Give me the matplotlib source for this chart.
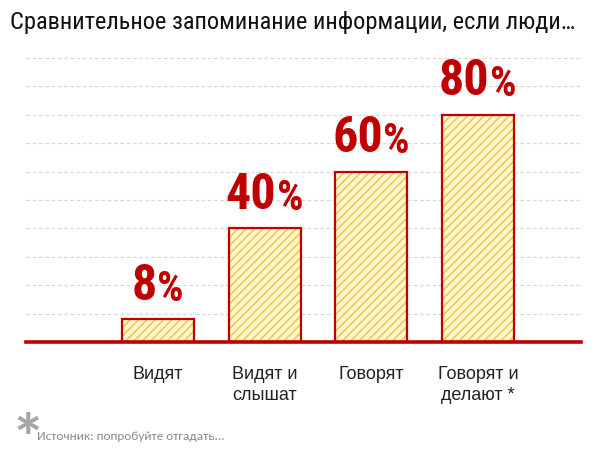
import matplotlib
matplotlib.use("Agg")
import matplotlib.pyplot as plt

title = "Сравнительное запоминание информации, если люди…"
categories = ["Видят", "Видят и\nслышат", "Говорят", "Говорят и\nделают *"]
values = [8, 40, 60, 80]
source = "Источник: попробуйте отгадать..."

RED = "#C00000"
FILL = "#FFF6CC"
HATCH = "#EEC450"

plt.rcParams["hatch.linewidth"] = 1.1
plt.rcParams["font.family"] = ["Liberation Sans", "DejaVu Sans"]

fig = plt.figure(figsize=(6.0, 4.58), dpi=100)
ax = fig.add_axes([26/600, 1-342/458, (581-26)/600, (342-58)/458])

x = list(range(len(categories)))
width = 0.675
ax.bar(x, values, width=width, color=FILL, edgecolor=HATCH, hatch="////", linewidth=0, zorder=2)
ax.bar(x, values, width=width, fill=False, edgecolor=RED, linewidth=1.6, zorder=3)

ax.set_xlim(-1.2375, 3.966)
ax.set_ylim(0, 100)
ax.set_yticks(range(10, 101, 10))
ax.yaxis.grid(True, color="#d9d9d9", linestyle=(0, (3, 2)), linewidth=0.9, zorder=0)
for gl in ax.get_ygridlines():
    gl.set_clip_on(False)
ax.tick_params(axis="y", length=0, labelleft=False)
ax.set_xticks(x)
ax.set_xticklabels(categories, fontsize=13, color="#222222", linespacing=1.35)
ax.tick_params(axis="x", length=0, pad=17)
for s in ["left", "right", "top"]:
    ax.spines[s].set_visible(False)
ax.spines["bottom"].set_color(RED)
ax.spines["bottom"].set_linewidth(2.6)
ax.spines["bottom"].set_zorder(4)

numfont = ["Roboto Condensed", "Liberation Sans", "DejaVu Sans"]
for xi, v in zip(x, values):
    t = ax.annotate(str(v), xy=(xi, v), xytext=(-10, 14), textcoords="offset points",
                    ha="center", va="baseline", fontsize=36, fontweight="bold",
                    color=RED, family=numfont)
    ax.annotate("%", xy=(1, 0), xycoords=t, xytext=(0.5, 0), textcoords="offset points",
                ha="left", va="bottom", fontsize=30, fontweight="bold",
                color=RED, family=numfont)

fig.text(10/600, 1-22/458, title, fontsize=17.6, color="#111111", ha="left", va="center",
         family=["Roboto Condensed", "DejaVu Sans"])
fig.text(10/600, 1-443/458, "*", fontsize=50, color="#a6a6a6", ha="left", va="center",
         fontweight="bold", family=["Carlito", "DejaVu Sans"])
fig.text(37/600, 1-437/458, source, fontsize=9.5, color="#8a8a8a", ha="left", va="center",
         family=["Carlito", "DejaVu Sans"])

fig.savefig("out.png", dpi=100)
